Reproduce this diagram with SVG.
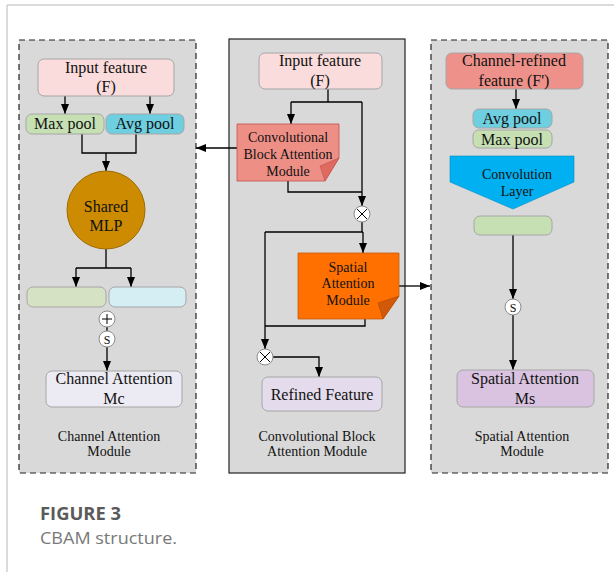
<svg xmlns="http://www.w3.org/2000/svg" width="614" height="572" viewBox="0 0 614 572">
<defs>
<marker id="ah" markerUnits="userSpaceOnUse" markerWidth="10" markerHeight="8" refX="10" refY="4" orient="auto"><path d="M0,0 L10,4 L0,8 z" fill="#000"/></marker>
<style>
.t{font-family:"Liberation Serif","Times New Roman",serif;fill:#111;text-anchor:middle}
.f16{font-size:16px}.f14{font-size:14px}.f13{font-size:14px}
.box{stroke:#a6a6a6;stroke-width:1}
.ln{fill:none;stroke:#000;stroke-width:1.3}
.ar{fill:none;stroke:#000;stroke-width:1.3;marker-end:url(#ah)}
.op{fill:#fff;stroke:#8c8c8c;stroke-width:1}
.panel{fill:#d9d9d9;stroke:#222;stroke-width:1.2}
</style>
</defs>
<rect width="614" height="572" fill="#fff"/>
<path d="M7,5 H614 M7,5 V572" fill="none" stroke="#d0d0d0" stroke-width="1.5"/>

<g id="panel-channel">
<rect class="panel" x="19" y="40" width="177" height="433" stroke-dasharray="6,4"/>
<text class="t f13" x="109" y="441">Channel Attention</text>
<text class="t f13" x="109" y="456">Module</text>
</g>
<g id="panel-cbam">
<rect class="panel" x="229" y="39" width="176" height="434"/>
<text class="t f13" x="317" y="441">Convolutional Block</text>
<text class="t f13" x="317" y="456">Attention Module</text>
</g>
<g id="panel-spatial">
<rect class="panel" x="431" y="40" width="177" height="433" stroke-dasharray="6,4"/>
<text class="t f13" x="522" y="441">Spatial Attention</text>
<text class="t f13" x="522" y="456">Module</text>
</g>

<g id="connectors">
<path class="ar" d="M65,96 V114"/>
<path class="ar" d="M150,96 V114"/>
<path class="ln" d="M82,134 V153 H136 V134"/>
<path class="ar" d="M106,153 V171"/>
<path class="ln" d="M106,249 V268 M76,268 H131"/>
<path class="ar" d="M76,268 V287"/>
<path class="ar" d="M131,268 V287"/>
<path class="ln" d="M107,327 V331"/>
<path class="ar" d="M107,347 V371"/>

<path class="ln" d="M328,89 V102 M291,102 H362"/>
<path class="ar" d="M291,102 V124"/>
<path class="ar" d="M362,102 V206"/>
<path class="ln" d="M288,181 V192 H362"/>
<path class="ar" d="M237,148 H196"/>
<path class="ln" d="M362,222 V232 M265,232 H363"/>
<path class="ar" d="M363,232 V253"/>
<path class="ar" d="M265,232 V349"/>
<path class="ln" d="M365,319 V326 H265"/>
<path class="ar" d="M273,357 H319 V377"/>
<path class="ar" d="M399,286 H430"/>

<path class="ar" d="M516,89 V109"/>
<path class="ar" d="M513,235 V299"/>
<path class="ar" d="M513,315 V370"/>
</g>

<g id="c-input">
<rect class="box" x="38" y="59" width="136" height="37" rx="6" fill="#f9dcdb"/>
<text class="t f16" x="106" y="73">Input feature</text>
<text class="t f16" x="106" y="92">(F)</text>
</g>
<g id="c-maxpool">
<rect class="box" x="26" y="114" width="78" height="20" rx="6" fill="#c6e0b4"/>
<text class="t f16" x="65" y="129">Max pool</text>
</g>
<g id="c-avgpool">
<rect class="box" x="106" y="114" width="78" height="20" rx="6" fill="#6dcfe0"/>
<text class="t f16" x="145" y="129">Avg pool</text>
</g>
<g id="c-mlp">
<circle cx="106" cy="210" r="39" fill="#cc8b00" stroke="#9c6b00" stroke-width="1"/>
<text class="t f16" x="106" y="212">Shared</text>
<text class="t f16" x="106" y="231">MLP</text>
</g>
<g id="c-out1">
<rect class="box" x="27" y="287" width="79" height="20" rx="6" fill="#d5e3c4"/>
</g>
<g id="c-out2">
<rect class="box" x="109" y="287" width="77" height="20" rx="6" fill="#d4eef4"/>
</g>
<g id="c-plus">
<circle class="op" cx="107" cy="319" r="8"/>
<path d="M102,319 H112 M107,314 V324" stroke="#000" stroke-width="1"/>
</g>
<g id="c-sig">
<circle class="op" cx="107" cy="339" r="8"/>
<text class="t" x="107" y="343.5" font-size="12">S</text>
</g>
<g id="c-mc">
<rect class="box" x="46" y="371" width="136" height="36" rx="6" fill="#eceaf2"/>
<text class="t f16" x="114" y="384">Channel Attention</text>
<text class="t f16" x="114" y="404">Mc</text>
</g>

<g id="m-input">
<rect class="box" x="259" y="53" width="123" height="36" rx="6" fill="#f9dcdb"/>
<text class="t f16" x="320" y="66">Input feature</text>
<text class="t f16" x="320" y="86">(F)</text>
</g>
<g id="m-cbam">
<path d="M237,124 H339 V158 L325,181 H237 Z" fill="#ee8f86" stroke="#c0504d" stroke-width="0.8"/>
<path d="M339,158 L325,181 L320,166 Z" fill="#df6a60" stroke="#c0504d" stroke-width="0.6"/>
<text class="t f14" x="288" y="142">Convolutional</text>
<text class="t f14" x="288" y="159">Block Attention</text>
<text class="t f14" x="288" y="176">Module</text>
</g>
<g id="m-mul1">
<circle class="op" cx="362" cy="214" r="8"/>
<path d="M357,209 L367,219 M367,209 L357,219" stroke="#000" stroke-width="1"/>
</g>
<g id="m-spatial">
<path d="M298,253 H399 V296 L383,319 H298 Z" fill="#ff7000" stroke="#c55a11" stroke-width="0.8"/>
<path d="M399,296 L383,319 L378,303 Z" fill="#d05a0a" stroke="#b04a00" stroke-width="0.6"/>
<text class="t f14" x="348" y="272">Spatial</text>
<text class="t f14" x="348" y="288">Attention</text>
<text class="t f14" x="348" y="305">Module</text>
</g>
<g id="m-mul2">
<circle class="op" cx="265" cy="357" r="8"/>
<path d="M260,352 L270,362 M270,352 L260,362" stroke="#000" stroke-width="1"/>
</g>
<g id="m-refined">
<rect class="box" x="262" y="377" width="120" height="34" rx="6" fill="#e4dcec"/>
<text class="t f16" x="322" y="400">Refined Feature</text>
</g>

<g id="s-input">
<rect class="box" x="446" y="53" width="137" height="36" rx="6" fill="#ee918a"/>
<text class="t f16" x="514" y="66">Channel-refined</text>
<text class="t f16" x="514" y="86">feature (F')</text>
</g>
<g id="s-avgpool">
<rect class="box" x="473" y="109" width="79" height="19" rx="6" fill="#6dcfe0"/>
<text class="t f16" x="512" y="124">Avg pool</text>
</g>
<g id="s-maxpool">
<rect class="box" x="473" y="130" width="79" height="18" rx="6" fill="#c6e0b4"/>
<text class="t f16" x="512" y="145">Max pool</text>
</g>
<g id="s-conv">
<path d="M450,156 H574 V182 L513,209 L450,182 Z" fill="#00b0f0" stroke="#0090c8" stroke-width="0.6"/>
<text class="t f14" x="517" y="179">Convolution</text>
<text class="t f14" x="517" y="196">Layer</text>
</g>
<g id="s-feat">
<rect class="box" x="474" y="216" width="78" height="19" rx="6" fill="#c6e0b4"/>
</g>
<g id="s-sig">
<circle class="op" cx="513" cy="307" r="8"/>
<text class="t" x="513" y="311.5" font-size="12">S</text>
</g>
<g id="s-ms">
<rect class="box" x="457" y="370" width="137" height="37" rx="6" fill="#d9c3e0"/>
<text class="t f16" x="525" y="384">Spatial Attention</text>
<text class="t f16" x="525" y="404">Ms</text>
</g>

<g id="caption">
<text x="40" y="520" font-family="'Open Sans',sans-serif" font-size="17" font-weight="bold" fill="#5a5a5a" textLength="81" lengthAdjust="spacingAndGlyphs">FIGURE 3</text>
<text x="40" y="544" font-family="'Open Sans',sans-serif" font-size="16.5" fill="#787878" textLength="137" lengthAdjust="spacingAndGlyphs">CBAM structure.</text>
</g>
</svg>
